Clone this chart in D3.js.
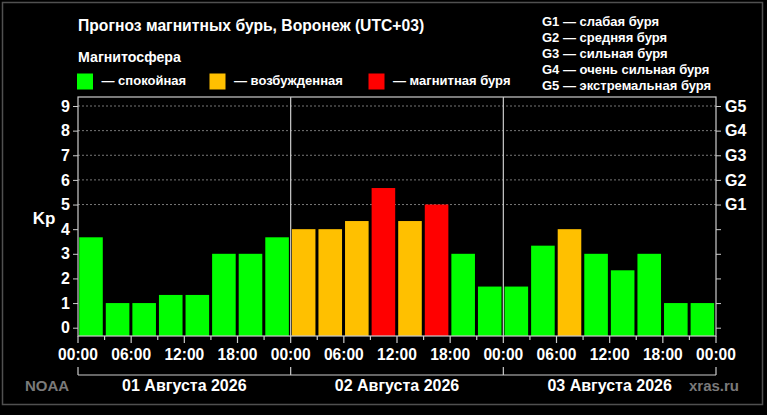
<!DOCTYPE html>
<html><head><meta charset="utf-8">
<script src="https://cdn.jsdelivr.net/npm/d3@7"></script>
<style>
html,body{margin:0;padding:0;background:#000;}
svg{display:block;font-family:"Liberation Sans",Arial,sans-serif;font-weight:bold;}
</style></head>
<body>
<svg id="c" width="767" height="415"></svg>
<script>
// ---- data ----
const title = "Прогноз магнитных бурь, Воронеж (UTC+03)";
const legendTitle = "Магнитосфера";
const legendLabels = ["— спокойная", "— возбужденная", "— магнитная буря"];
const legendColors = ["#00ff00", "#ffc000", "#ff0000"];
const stormLabels = ["G1 — слабая буря", "G2 — средняя буря", "G3 — сильная буря", "G4 — очень сильная буря", "G5 — экстремальная буря"];
const days = ["01 Августа 2026", "02 Августа 2026", "03 Августа 2026"];
const kp = [3.67, 1, 1, 1.33, 1.33, 3, 3, 3.67,
            4, 4, 4.33, 5.67, 4.33, 5, 3, 1.67,
            1.67, 3.33, 4, 3, 2.33, 3, 1, 1];
const hourLabels = ["00:00","06:00","12:00","18:00","00:00","06:00","12:00","18:00","00:00","06:00","12:00","18:00","00:00"];
const yTicks = [0,1,2,3,4,5,6,7,8,9];
const gTicks = [5,6,7,8,9];
const gLabels = ["G1","G2","G3","G4","G5"];
const sources = ["NOAA", "xras.ru"];

// ---- layout ----
const svg = d3.select("#c");
const L = 78, R = 716, T = 97, B = 336;
const x = d3.scaleLinear().domain([0, 72]).range([L, R]);
const y = d3.scaleLinear().domain([0, 9]).range([327.7, 106]);
const colorFor = v => v >= 5 ? legendColors[2] : (v >= 4 ? legendColors[1] : legendColors[0]);

// outer frame
svg.append("rect").attr("x", 2.5).attr("y", 2.5).attr("width", 760).attr("height", 402)
  .attr("fill", "none").attr("stroke", "#505050").attr("stroke-width", 1.5);

// title + legend
svg.append("text").attr("x", L).attr("y", 31).attr("fill", "#fff").attr("font-size", 15.7).text(title);
svg.append("text").attr("x", L).attr("y", 62).attr("fill", "#fff").attr("font-size", 14.2).text(legendTitle);
const legX = [77, 209.5, 368.5];
legendLabels.forEach((t, i) => {
  svg.append("rect").attr("x", legX[i]).attr("y", 73.5).attr("width", 16).attr("height", 16).attr("fill", legendColors[i]);
  svg.append("text").attr("x", legX[i] + 24.5).attr("y", 85).attr("fill", "#fff").attr("font-size", 13).text(t);
});
stormLabels.forEach((t, i) => {
  svg.append("text").attr("x", 542).attr("y", 26 + i * 16.1).attr("fill", "#fff").attr("font-size", 13).text(t);
});

// gridlines
svg.append("g").selectAll("line").data(gTicks).join("line")
  .attr("x1", L).attr("x2", R).attr("y1", d => y(d)).attr("y2", d => y(d))
  .attr("stroke", "#777").attr("stroke-dasharray", "2,2").attr("stroke-width", 1);

// bars
svg.append("g").selectAll("rect").data(kp).join("rect")
  .attr("x", (d, i) => x(i * 3) + 1.2)
  .attr("width", (d, i) => x(i * 3 + 3) - x(i * 3) - 3)
  .attr("y", d => y(d))
  .attr("height", d => B - y(d))
  .attr("fill", d => colorFor(d));

// day separators
svg.append("g").selectAll("line").data([24, 48]).join("line")
  .attr("x1", d => x(d)).attr("x2", d => x(d)).attr("y1", T).attr("y2", B)
  .attr("stroke", "#ccc").attr("stroke-width", 1.2);

// plot border
svg.append("rect").attr("x", L).attr("y", T).attr("width", R - L).attr("height", B - T)
  .attr("fill", "none").attr("stroke", "#ccc").attr("stroke-width", 1.2);

// left axis
const la = svg.append("g").attr("transform", `translate(${L},0)`)
  .call(d3.axisLeft(y).tickValues(yTicks).tickSize(5).tickPadding(3).tickFormat(d3.format("d")));
la.select(".domain").remove();
la.selectAll("line").attr("stroke", "#ccc");
la.selectAll("text").attr("fill", "#fff").attr("font-size", 16).attr("font-family", null).attr("font-weight", "bold");

// right axis
const ra = svg.append("g").attr("transform", `translate(${R},0)`)
  .call(d3.axisRight(y).tickValues(yTicks).tickSize(5).tickPadding(4)
    .tickFormat(d => gTicks.includes(d) ? gLabels[gTicks.indexOf(d)] : ""));
ra.select(".domain").remove();
ra.selectAll("line").attr("stroke", "#ccc");
ra.selectAll("text").attr("fill", "#fff").attr("font-size", 16).attr("font-family", null).attr("font-weight", "bold");

// Kp label
svg.append("text").attr("x", 44).attr("y", 224).attr("text-anchor", "middle").attr("fill", "#fff").attr("font-size", 17).text("Kp");

// bottom axis: minor ticks every 3h, major every 6h
const minorT = d3.range(0, 73, 3);
svg.append("g").selectAll("line").data(minorT).join("line")
  .attr("x1", d => x(d)).attr("x2", d => x(d)).attr("y1", B).attr("y2", d => B + (d % 6 === 0 ? 7 : 4))
  .attr("stroke", "#ccc").attr("stroke-width", 1.2);
svg.append("g").selectAll("text").data(hourLabels).join("text")
  .attr("x", (d, i) => x(i * 6)).attr("y", 360).attr("text-anchor", "middle")
  .attr("fill", "#fff").attr("font-size", 15.6).text(d => d);

// day brackets
svg.append("line").attr("x1", L).attr("x2", R).attr("y1", 375).attr("y2", 375).attr("stroke", "#ccc").attr("stroke-width", 1.2);
svg.append("g").selectAll("line").data([0, 24, 48, 72]).join("line")
  .attr("x1", d => x(d)).attr("x2", d => x(d)).attr("y1", 367).attr("y2", 375)
  .attr("stroke", "#ccc").attr("stroke-width", 1.2);
svg.append("g").selectAll("text").data(days).join("text")
  .attr("x", (d, i) => x(i * 24 + 12)).attr("y", 391).attr("text-anchor", "middle")
  .attr("fill", "#fff").attr("font-size", 16).text(d => d);

// sources
svg.append("text").attr("x", 25).attr("y", 391).attr("fill", "#7a7a7a").attr("font-size", 15).text(sources[0]);
svg.append("text").attr("x", 689).attr("y", 391).attr("fill", "#7a7a7a").attr("font-size", 15).text(sources[1]);
</script>
</body></html>
